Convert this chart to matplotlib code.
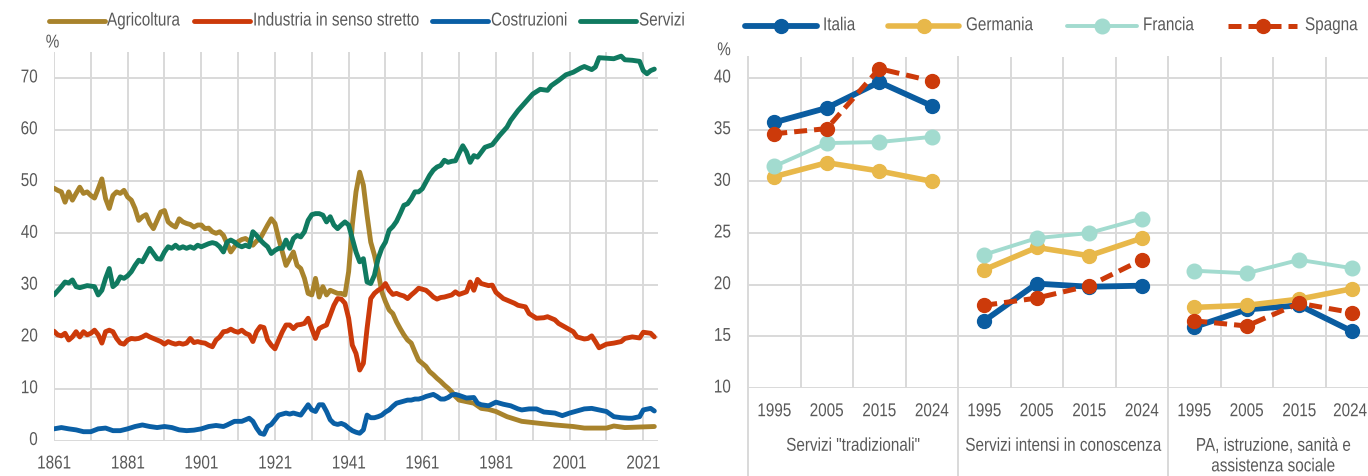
import matplotlib
matplotlib.use("Agg")
import matplotlib.pyplot as plt
from matplotlib.lines import Line2D
from matplotlib.patheffects import AbstractPathEffect
from matplotlib.transforms import Affine2D

plt.rcParams['font.family'] = ['Liberation Sans', 'DejaVu Sans']
FS = 13.4
SX = 0.82          # horizontal squeeze to imitate a narrow sans font
TXT = '#595959'
GRID = '#D9D9D9'

# ---------------- left chart data (share of employment, %) ----------------
sector_names = ["Agricoltura", "Industria in senso stretto", "Costruzioni", "Servizi"]
sector_colors = ['#A8832C', '#CC3A0A', '#0A5FA5', '#107A60']

agr_years = list(range(1861, 1972)) + [1973, 1975, 1977, 1979, 1981, 1984, 1988, 1993,
                                       1997, 2002, 2005, 2011, 2013, 2016, 2020, 2024]
agr_vals = [48.7, 48.3, 48.0, 46.0, 48.0, 46.4, 47.7, 48.9, 47.7, 48.0,
            47.3, 46.8, 48.6, 50.5, 46.7, 44.8, 47.3, 48.0, 47.7, 48.3,
            47.0, 46.4, 44.8, 42.5, 43.2, 43.6, 41.9, 40.9, 42.5, 44.1,
            44.4, 42.2, 41.6, 41.2, 42.8, 42.2, 41.9, 41.7, 41.2, 41.6,
            41.6, 40.9, 41.0, 40.3, 40.0, 40.3, 39.6, 38.0, 36.4, 37.4,
            38.4, 38.8, 39.0, 38.5, 37.7, 38.5, 39.0, 40.3, 41.6, 42.8,
            41.9, 39.0, 36.4, 33.8, 35.1, 36.4, 33.8, 33.2, 31.3, 28.4,
            28.1, 31.3, 27.7, 29.7, 28.1, 29.0, 28.7, 28.4, 28.4, 28.1,
            32.6, 41.6, 48.0, 51.8, 49.3, 43.5, 38.3, 35.8, 32.6, 28.7,
            26.8, 25.2, 24.5, 22.9, 21.6, 20.4, 19.4, 18.8, 17.1, 15.5,
            14.9, 14.3, 13.3, 12.7, 12.0, 11.4, 10.7, 10.1, 9.4, 8.5,
            7.8,
            7.5, 7.2, 6.2, 6.0, 5.6, 4.6, 3.7, 3.3, 3.0, 2.7, 2.4, 2.4, 2.8, 2.5, 2.6, 2.7]

ind_years = list(range(1861, 1972)) + [1973, 1974, 1975, 1976, 1977, 1979, 1980, 1981, 1983,
                                       1984, 1986, 1987, 1989, 1990, 1992, 1994, 1995, 1997,
                                       1998, 2000, 2002, 2003, 2005, 2006, 2007, 2008, 2009,
                                       2011, 2013, 2015, 2016, 2018, 2020, 2021, 2023, 2024]
ind_vals = [21.1, 20.4, 20.2, 20.7, 19.4, 20.0, 21.0, 20.0, 21.0, 20.4,
            20.7, 21.3, 20.4, 18.8, 21.0, 21.3, 21.0, 19.7, 18.8, 18.6,
            19.4, 19.7, 19.6, 19.7, 20.0, 20.4, 20.0, 19.7, 19.4, 19.1,
            18.6, 19.1, 18.8, 18.6, 18.8, 18.6, 18.8, 19.7, 18.9, 19.1,
            18.9, 18.8, 18.4, 18.1, 19.4, 20.0, 21.0, 21.1, 21.5, 21.1,
            20.9, 21.3, 20.7, 20.4, 19.1, 21.0, 22.0, 21.8, 19.4, 18.4,
            17.7, 19.4, 21.0, 22.3, 22.3, 21.6, 22.3, 22.4, 22.6, 23.6,
            21.6, 19.7, 21.6, 22.0, 22.3, 24.2, 26.1, 27.4, 27.3, 26.5,
            23.6, 18.4, 16.8, 13.6, 14.9, 21.6, 27.4, 28.4, 29.0, 29.4,
            30.3, 29.0, 28.2, 28.4, 28.1, 27.9, 27.4, 28.1, 28.7, 29.4,
            29.2, 29.0, 28.4, 27.7, 27.3, 27.6, 27.7, 27.9, 28.1, 28.7,
            28.2,
            28.7, 30.6, 29.0, 31.1, 30.3, 29.9, 30.0, 28.6, 27.4,
            27.1, 26.5, 26.1, 25.8, 24.5, 23.6, 23.7, 23.9, 23.3,
            22.6, 21.8, 21.0, 20.0, 19.6, 19.7, 20.2, 19.1, 17.9,
            18.6, 18.8, 19.1, 19.7, 20.0, 19.8, 20.9, 20.7, 20.0]

cos_years = [1861, 1863, 1865, 1867, 1869, 1871, 1873, 1875, 1877, 1879,
             1881, 1883, 1885, 1887, 1889, 1891, 1893, 1895, 1897, 1899,
             1901, 1903, 1905, 1907, 1908, 1910, 1912, 1914] + list(range(1915, 1972)) + \
            [1973, 1975, 1976, 1977, 1979, 1981, 1983, 1985, 1987, 1988, 1990, 1992,
             1994, 1997, 1999, 2001, 2003, 2005, 2007, 2009, 2011, 2013, 2015, 2017,
             2018, 2020, 2021, 2023, 2024]
cos_vals = [2.25, 2.5, 2.25, 2.05, 1.7, 1.7, 2.25, 2.4, 1.9, 1.9,
            2.25, 2.7, 3.0, 2.7, 2.5, 2.7, 2.5, 2.05, 1.9, 2.0,
            2.25, 2.7, 2.9, 2.7, 3.0, 3.7, 3.7, 4.3,
            3.7, 2.4, 1.4, 1.2, 2.7, 3.1, 4.0, 4.9, 5.1, 5.3,
            5.1, 5.3, 5.1, 4.9, 5.9, 6.9, 5.9, 5.6, 6.9, 6.9,
            5.6, 4.0, 3.3, 3.1, 3.3, 3.0, 2.4, 1.9, 1.6, 1.4,
            2.05, 4.9, 4.4, 4.4, 4.6, 4.9, 5.5, 5.9, 6.6, 7.2,
            7.4, 7.6, 7.8, 7.8, 8.0, 8.0, 8.2, 8.5, 8.7, 8.9,
            8.5, 8.0, 8.0, 8.3, 8.8, 8.9, 8.7,
            8.2, 8.3, 7.2, 6.9, 6.7, 7.4, 7.0, 6.7, 6.1, 5.9, 6.1, 6.1,
            5.5, 5.3, 4.8, 5.3, 5.7, 6.1, 6.2, 5.9, 5.6, 4.6, 4.4, 4.3,
            4.3, 4.6, 5.9, 6.2, 5.7]

ser_years = list(range(1861, 1972)) + [1972, 1973, 1974, 1975, 1976, 1978, 1980, 1982, 1984,
                                       1985, 1987, 1989, 1991, 1993, 1995, 1996, 1998, 2000,
                                       2002, 2004, 2005, 2007, 2008, 2009, 2011, 2013, 2015,
                                       2016, 2018, 2020, 2021, 2022, 2023, 2024]
ser_vals = [28.1, 28.9, 29.7, 30.6, 30.4, 31.0, 29.7, 29.5, 29.7, 29.9,
            29.8, 29.7, 28.1, 29.0, 31.3, 33.2, 29.7, 30.3, 31.6, 31.3,
            31.8, 32.6, 33.8, 34.8, 34.5, 35.8, 37.1, 36.1, 35.1, 35.0,
            36.4, 37.4, 37.1, 37.7, 37.1, 37.4, 37.1, 37.4, 37.1, 37.7,
            37.4, 37.7, 38.0, 38.2, 38.0, 37.4, 36.4, 38.3, 38.7, 38.3,
            37.7, 37.4, 37.7, 37.4, 40.3, 39.6, 38.7, 38.0, 37.4, 36.1,
            36.7, 37.1, 37.1, 38.7, 37.1, 39.0, 39.6, 39.3, 40.3, 42.5,
            43.6, 43.8, 43.8, 43.5, 42.2, 43.2, 41.6, 40.9, 41.6, 42.2,
            41.6, 39.0, 36.4, 34.5, 35.1, 30.6, 30.3, 31.9, 35.1, 37.1,
            38.3, 40.6, 41.3, 42.3, 43.8, 45.4, 45.7, 46.7, 48.0, 48.0,
            48.6, 49.9, 51.2, 52.2, 52.8, 53.1, 54.1, 53.7, 53.9, 54.0,
            55.5,
            56.9, 55.7, 53.7, 55.0, 54.7, 56.6, 57.1, 58.9, 60.5,
            61.8, 63.7, 65.3, 66.9, 67.8, 67.6, 68.5, 69.5, 70.6,
            71.1, 71.9, 72.2, 71.6, 72.1, 73.9, 73.8, 73.7, 74.2,
            73.5, 73.4, 73.2, 71.4, 70.8, 71.4, 71.7]

left_xlabels = [1861, 1881, 1901, 1921, 1941, 1961, 1981, 2001, 2021]
left_yticks = [0, 10, 20, 30, 40, 50, 60, 70]

# ---------------- right chart data (%) ----------------
year_cats = ["1995", "2005", "2015", "2024"]
groups = ['Servizi "tradizionali"', 'Servizi intensi in conoscenza',
          ['PA, istruzione, sanità e', 'assistenza sociale']]
countries = ["Italia", "Germania", "Francia", "Spagna"]
italia = [[35.7, 37.1, 39.6, 37.3], [16.5, 20.1, 19.8, 19.9], [15.9, 17.6, 18.0, 15.5]]
germania = [[30.45, 31.8, 31.0, 30.0], [21.45, 23.6, 22.8, 24.5], [17.8, 18.0, 18.6, 19.6]]
francia = [[31.45, 33.7, 33.8, 34.3], [22.9, 24.5, 25.0, 26.4], [21.35, 21.1, 22.4, 21.6]]
spagna = [[34.6, 35.1, 40.9, 39.7], [18.0, 18.7, 19.9, 22.4], [16.5, 16.0, 18.2, 17.3]]
right_yticks = [10, 15, 20, 25, 30, 35, 40]


class HScale(AbstractPathEffect):
    """Squeeze glyph outlines horizontally about the alignment point."""

    def __init__(self, sx, anchor):
        super().__init__()
        self.sx = sx
        self.anchor = anchor

    def draw_path(self, renderer, gc, tpath, affine, rgbFace=None):
        if len(tpath.vertices) == 0:
            return
        ext = tpath.get_extents()
        if self.anchor == 'left':
            x0 = 0.0
        elif self.anchor == 'right':
            x0 = ext.x1
        else:
            x0 = 0.5 * (ext.x0 + ext.x1)
        t = Affine2D().translate(-x0, 0).scale(self.sx, 1).translate(x0, 0)
        renderer.draw_path(gc, tpath, t + affine, rgbFace)


W, H = 1368, 477
fig = plt.figure(figsize=(W / 100, H / 100), dpi=100)


def fx(px):
    return px / W


def fy(py):
    return 1 - py / H


def txt(x, y, s, ha='center', va='center', transform=None, **kw):
    if transform is None:
        transform = fig.transFigure
    t = fig.text(x, y, s, ha=ha, va=va, transform=transform, color=TXT, fontsize=FS, **kw)
    t.set_path_effects([HScale(SX, ha)])
    return t


# ---- left chart ----
L_BOT, L_TOP = 441.5, 53.0
ax1 = fig.add_axes([fx(54), fy(L_BOT), fx(604), (L_BOT - L_TOP) / H])
series = [(agr_years, agr_vals), (ind_years, ind_vals), (cos_years, cos_vals), (ser_years, ser_vals)]
for (yrs, vals), col in zip(series, sector_colors):
    ax1.plot(yrs, vals, color=col, lw=3.5, solid_joinstyle='round',
             solid_capstyle='round', zorder=3)
ax1.set_xlim(1861, 2025)
ax1.set_ylim(0, 75)
ax1.set_xticks(list(range(1861, 2022, 10)))
ax1.set_yticks(left_yticks)
ax1.set_xticklabels([])
ax1.set_yticklabels([])
ax1.grid(True, color=GRID, lw=1.4, zorder=0)
ax1.set_axisbelow(True)
for s in ax1.spines.values():
    s.set_visible(False)
ax1.tick_params(length=0)

for v in left_yticks:
    pix = L_BOT - v * (L_BOT - L_TOP) / 75
    txt(fx(38), fy(pix), str(v), ha='right')
for y in left_xlabels:
    txt(y, -(465 - L_BOT) / (L_BOT - L_TOP), str(y), transform=ax1.get_xaxis_transform())
txt(fx(52.5), fy(44), '%')

# left legend (drawn by hand)
leg1_lines = [(49, 105), (194, 250), (432, 488), (580, 636)]
leg1_text = [107, 253, 491, 639]
for (a, b), tx, name, col in zip(leg1_lines, leg1_text, sector_names, sector_colors):
    fig.add_artist(Line2D([fx(a), fx(b)], [fy(22), fy(22)], transform=fig.transFigure,
                          color=col, lw=3.5, solid_capstyle='round'))
    txt(fx(tx), fy(22), name, ha='left')

# ---- right chart ----
R_BOT, R_TOP = 389.0, 58.3
ax2 = fig.add_axes([fx(748), fy(R_BOT), fx(630), (R_BOT - R_TOP) / H])
ax2.set_xlim(-0.5, 11.5)
ax2.set_ylim(10, 42)
ax2.set_yticks(right_yticks)
ax2.set_yticklabels([])
ax2.set_xticks([])
ax2.yaxis.grid(True, color=GRID, lw=1.4, zorder=0)
ax2.set_axisbelow(True)
for s in ax2.spines.values():
    s.set_visible(False)
ax2.tick_params(length=0)
ncat = len(year_cats)
ngrp = len(groups)
ext = -(H - R_BOT) / (R_BOT - R_TOP)
xt = ax2.get_xaxis_transform()
for b in range(ngrp * ncat + 1):
    xb = b - 0.5
    if b % ncat == 0:
        ax2.plot([xb, xb], [1, ext], transform=xt, color=GRID, lw=1.4, clip_on=False, zorder=0)
    else:
        ax2.plot([xb, xb], [0, 1], transform=xt, color=GRID, lw=1.4, zorder=0)

styles = {
    "Italia": dict(color='#0A5CA0', lw=4.2, ms=10, ls='-'),
    "Germania": dict(color='#E8B84A', lw=4.0, ms=10, ls='-'),
    "Francia": dict(color='#A2DBCF', lw=2.8, ms=10.5, ls='-'),
    "Spagna": dict(color='#CC3A0A', lw=3.6, ms=10, ls=(0, (2.6, 1.4))),
}
data_r = {"Italia": italia, "Germania": germania, "Francia": francia, "Spagna": spagna}
for c in countries:
    st = styles[c]
    for g in range(ngrp):
        xs = [g * ncat + i for i in range(ncat)]
        ax2.plot(xs, data_r[c][g], color=st['color'], lw=st['lw'], ls=st['ls'],
                 marker='o', ms=st['ms'], mec=st['color'], mfc=st['color'],
                 zorder=3, solid_joinstyle='round', solid_capstyle='round', clip_on=False)

for v in right_yticks:
    pix = R_BOT - (v - 10) * (R_BOT - R_TOP) / 32
    txt(fx(731), fy(pix), str(v), ha='right')
yr_y = -(412.7 - R_BOT) / (R_BOT - R_TOP)
for g in range(ngrp):
    for i, yc in enumerate(year_cats):
        xpos = g * ncat + i
        if xpos == ngrp * ncat - 1:
            # last label sits at the figure's right edge: keep it fully inside
            txt(fx(W - 1), fy(412.7), yc, ha='right')
        else:
            txt(xpos, yr_y, yc, transform=xt)
    lines = groups[g] if isinstance(groups[g], list) else [groups[g]]
    for k, line in enumerate(lines):
        txt(g * ncat + 1.5, -(447.3 + 20.5 * k - R_BOT) / (R_BOT - R_TOP), line, transform=xt)
txt(fx(724), fy(51.7), '%')

# right legend (drawn by hand)
leg2_lines = [(745, 817), (888, 959), (1067, 1137), (1228, 1297)]
leg2_text = [823, 966, 1143, 1305]
for (a, b), tx, c in zip(leg2_lines, leg2_text, countries):
    st = styles[c]
    fig.add_artist(Line2D([fx(a), fx(b)], [fy(26.7), fy(26.7)], transform=fig.transFigure,
                          color=st['color'], lw=st['lw'], ls=st['ls'],
                          solid_capstyle='round'))
    fig.add_artist(Line2D([fx((a + b) / 2)], [fy(26.7)], transform=fig.transFigure,
                          color=st['color'], marker='o', ms=st['ms'], ls='none'))
    txt(fx(tx), fy(26.7), c, ha='left')

fig.savefig('out.png', dpi=100)
